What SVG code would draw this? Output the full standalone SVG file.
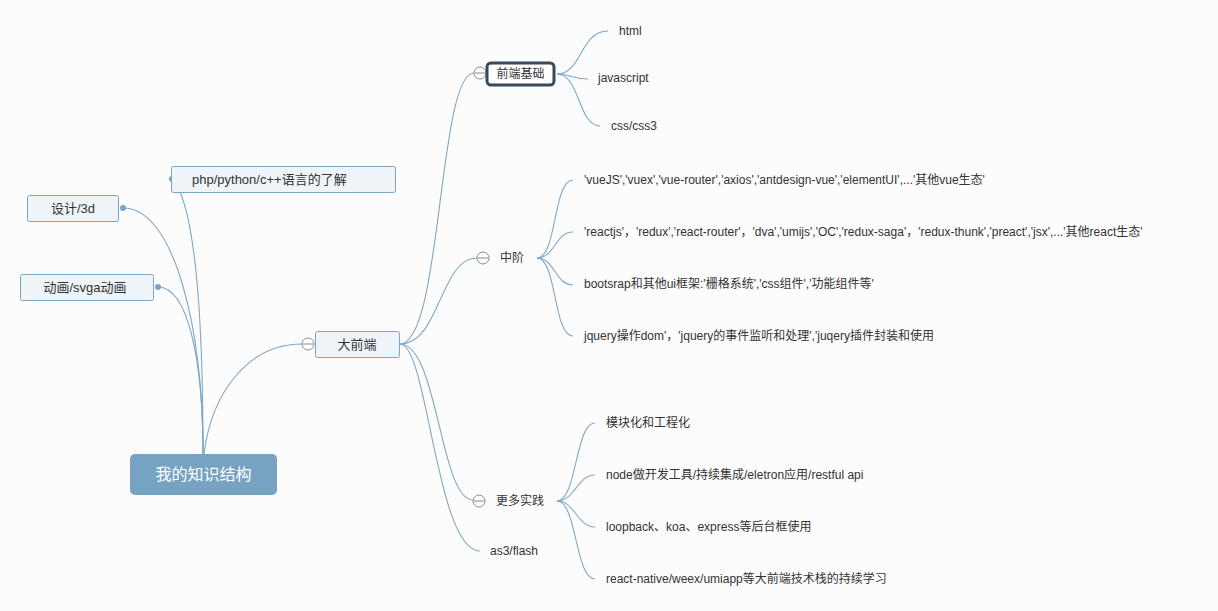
<svg xmlns="http://www.w3.org/2000/svg" width="1218" height="611" viewBox="0 0 1218 611">
<style>
text{font-family:"Liberation Sans","Noto Sans CJK SC",sans-serif;fill:#333;font-size:12px}
.c{fill:none;stroke:#7ea8c8;stroke-width:1.1}
.box{fill:#eef4f8;stroke:#7aa6c6;stroke-width:1}
.dot{fill:#7aa6c6}
.fold{fill:#fff;stroke:#8a8a8a;stroke-width:1}
.foldl{stroke:#8a8a8a;stroke-width:1}
.mid{text-anchor:middle}
</style>
<rect width="1218" height="611" fill="#fcfcfc"/>
<g id="connectors">
<path class="c" d="M203,454 C203,330 175,208 123,208"/>
<path class="c" d="M203,454 C203,360 188,287 158,287"/>
<path class="c" d="M203,454 C203,320 196,230 180,192"/>
<path class="c" d="M204,454 C212,390 250,344 302,344"/>
<path class="c" d="M400,344 C442,344 438,73 474,73"/>
<path class="c" d="M400,344 C440,344 440,258 477,258"/>
<path class="c" d="M400,344 C438,344 440,500 473,500"/>
<path class="c" d="M400,344 C428,344 436,551 480,551"/>
<path class="c" d="M557,74 C582,74 580,31 608,31"/>
<path class="c" d="M557,74 C570,74 572,79 588,79"/>
<path class="c" d="M557,74 C580,74 578,126 600,126"/>
<path class="c" d="M537,258 C557,258 553,180 573,180"/>
<path class="c" d="M537,258 C555,258 555,232 573,232"/>
<path class="c" d="M537,258 C555,258 555,285 573,285"/>
<path class="c" d="M537,258 C557,258 553,336 573,336"/>
<path class="c" d="M557,501 C577,501 575,423 595,423"/>
<path class="c" d="M557,501 C575,501 577,475 595,475"/>
<path class="c" d="M557,501 C575,501 577,527 595,527"/>
<path class="c" d="M557,501 C577,501 575,579 595,579"/>
</g>
<g id="root">
<rect x="130" y="454" width="147" height="41" rx="5" fill="#77a3c3"/>
<text x="203.5" y="480" class="mid" style="fill:#fff;font-size:16px">我的知识结构</text>
</g>
<g id="php">
<circle cx="172" cy="179" r="3" class="dot"/>
<rect x="171.5" y="166.5" width="224" height="26" rx="2" class="box"/>
<text x="192" y="184" style="font-size:13px">php/python/c++语言的了解</text>
</g>
<g id="design3d">
<rect x="27.5" y="195.5" width="91" height="26" rx="2" class="box"/>
<circle cx="123" cy="208" r="3" class="dot"/>
<text x="73" y="213" class="mid" style="font-size:13px">设计/3d</text>
</g>
<g id="anim">
<rect x="20.5" y="274.5" width="133" height="26" rx="2" class="box"/>
<circle cx="158" cy="287" r="3" class="dot"/>
<text x="85" y="292" class="mid" style="font-size:13px">动画/svga动画</text>
</g>
<g id="dqd">
<rect x="315.5" y="331.5" width="84" height="26" rx="2" class="box"/>
<circle cx="308" cy="344" r="6" class="fold"/><line x1="303" y1="344" x2="313" y2="344" class="foldl"/>
<text x="357" y="349" class="mid" style="font-size:13px">大前端</text>
</g>
<g id="qdjc">
<circle cx="480" cy="73" r="6" class="fold"/><line x1="475" y1="73" x2="485" y2="73" class="foldl"/>
<rect x="487" y="63" width="67" height="22" rx="4" fill="#fff" stroke="#37495a" stroke-width="3"/>
<text x="520.5" y="78" class="mid">前端基础</text>
</g>
<g id="html"><text x="619" y="35">html</text></g>
<g id="js"><text x="598" y="82">javascript</text></g>
<g id="css"><text x="611" y="130">css/css3</text></g>
<g id="zj">
<circle cx="483" cy="258" r="6" class="fold"/><line x1="478" y1="258" x2="488" y2="258" class="foldl"/>
<text x="500" y="262">中阶</text>
</g>
<g id="vue"><text x="584" y="184">'vueJS','vuex','vue-router','axios','antdesign-vue','elementUI',...'其他vue生态'</text></g>
<g id="react"><text x="584" y="236">'reactjs'，'redux','react-router'，'dva','umijs','OC','redux-saga'，'redux-thunk','preact','jsx',...'其他react生态'</text></g>
<g id="bootstrap"><text x="584" y="288">bootsrap和其他ui框架:'栅格系统','css组件','功能组件等'</text></g>
<g id="jquery"><text x="584" y="340">jquery操作dom'，'jquery的事件监听和处理','juqery插件封装和使用</text></g>
<g id="gdsj">
<circle cx="479" cy="501" r="6" class="fold"/><line x1="474" y1="501" x2="484" y2="501" class="foldl"/>
<text x="496" y="505">更多实践</text>
</g>
<g id="as3"><text x="490" y="555">as3/flash</text></g>
<g id="mkh"><text x="606" y="427">模块化和工程化</text></g>
<g id="node"><text x="606" y="479">node做开发工具/持续集成/eletron应用/restful api</text></g>
<g id="loopback"><text x="606" y="531">loopback、koa、express等后台框使用</text></g>
<g id="rn"><text x="606" y="583">react-native/weex/umiapp等大前端技术栈的持续学习</text></g>
</svg>
